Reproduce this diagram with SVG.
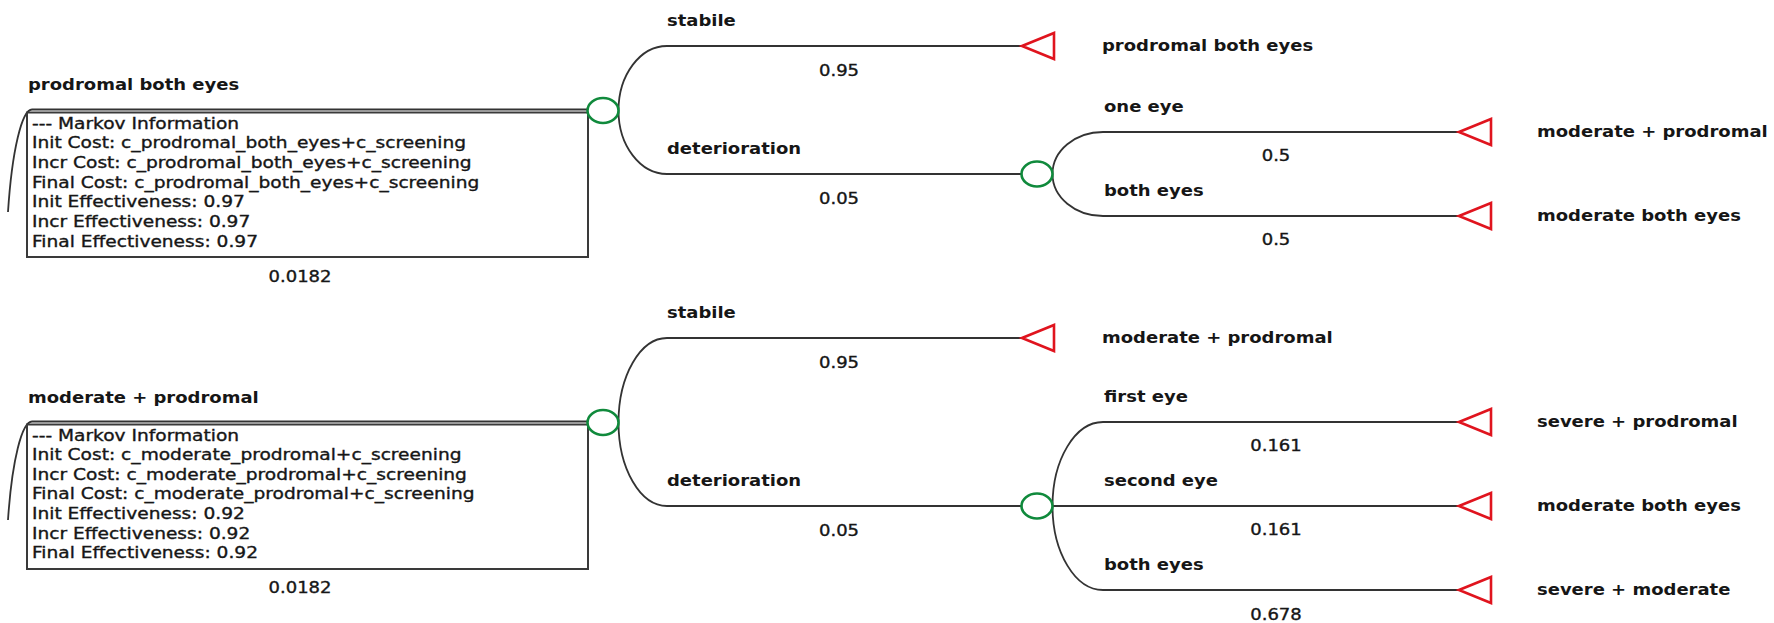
<svg xmlns="http://www.w3.org/2000/svg" width="1774" height="623" viewBox="0 0 1774 623">
<style>
  .bg { fill: #ffffff; }
  .edge { fill: none; stroke: #333333; stroke-width: 1.8; }
  .box { fill: none; stroke: #3a3a3a; stroke-width: 2; }
  .chance { fill: #ffffff; stroke: #108a3c; stroke-width: 2.6; }
  .term { fill: #ffffff; stroke: #e0141e; stroke-width: 2.6; stroke-linejoin: miter; }
  text { font-family: "DejaVu Sans", "Noto Sans", sans-serif; fill: #161616; }
  .lbl { font-size: 15px; font-weight: bold; }
  .prob { font-size: 15px; text-anchor: middle; stroke: #161616; stroke-width: 0.35; }
  .info { font-size: 15.5px; stroke: #161616; stroke-width: 0.35; }
</style>
<rect class="bg" x="0" y="0" width="1774" height="623"/>

<g id="connectors">
  <!-- top tree -->
  <path class="edge" d="M 8 212 C 12 150, 22 109.5, 32 109.5 H 588"/>
  <path class="edge" d="M 618.5 110.5 A 48.5 64.5 0 0 1 667 46 H 1022"/>
  <path class="edge" d="M 618.5 110.5 A 48.5 63.5 0 0 0 667 174 H 1021.5"/>
  <path class="edge" d="M 1052.5 174 A 50.5 42 0 0 1 1103 132 H 1459"/>
  <path class="edge" d="M 1052.5 174 A 50.5 42 0 0 0 1103 216 H 1459"/>
  <!-- bottom tree -->
  <path class="edge" d="M 8 520 C 12 460, 22 421.5, 32 421.5 H 588"/>
  <path class="edge" d="M 618.5 422.5 A 48.5 84.5 0 0 1 667 338 H 1022"/>
  <path class="edge" d="M 618.5 422.5 A 48.5 83.5 0 0 0 667 506 H 1021.5"/>
  <path class="edge" d="M 1052.5 506 A 50.5 84 0 0 1 1103 422 H 1459"/>
  <path class="edge" d="M 1052.5 506 H 1459"/>
  <path class="edge" d="M 1052.5 506 A 50.5 84 0 0 0 1103 590 H 1459"/>
</g>

<g id="edge-labels">
  <text class="lbl" transform="translate(667 26) scale(1.2 1)">stabile</text>
  <text class="prob" transform="translate(839 76) scale(1.2 1)">0.95</text>
  <text class="lbl" transform="translate(667 154) scale(1.2 1)">deterioration</text>
  <text class="prob" transform="translate(839 204) scale(1.2 1)">0.05</text>
  <text class="lbl" transform="translate(1104 112) scale(1.2 1)">one eye</text>
  <text class="prob" transform="translate(1276 161) scale(1.2 1)">0.5</text>
  <text class="lbl" transform="translate(1104 196) scale(1.2 1)">both eyes</text>
  <text class="prob" transform="translate(1276 245) scale(1.2 1)">0.5</text>

  <text class="lbl" transform="translate(667 318) scale(1.2 1)">stabile</text>
  <text class="prob" transform="translate(839 368) scale(1.2 1)">0.95</text>
  <text class="lbl" transform="translate(667 486) scale(1.2 1)">deterioration</text>
  <text class="prob" transform="translate(839 536) scale(1.2 1)">0.05</text>
  <text class="lbl" transform="translate(1104 402) scale(1.2 1)">first eye</text>
  <text class="prob" transform="translate(1276 451) scale(1.2 1)">0.161</text>
  <text class="lbl" transform="translate(1104 486) scale(1.2 1)">second eye</text>
  <text class="prob" transform="translate(1276 535) scale(1.2 1)">0.161</text>
  <text class="lbl" transform="translate(1104 570) scale(1.2 1)">both eyes</text>
  <text class="prob" transform="translate(1276 620) scale(1.2 1)">0.678</text>
</g>

<g id="markov-prodromal-both-eyes">
  <text class="lbl" transform="translate(28 90) scale(1.2 1)">prodromal both eyes</text>
  <rect class="box" x="27" y="112.5" width="561" height="144.5"/>
  <text class="info" transform="translate(32 128.5) scale(1.2 1)">--- Markov Information</text>
  <text class="info" transform="translate(32 148.2) scale(1.2 1)">Init Cost: c_prodromal_both_eyes+c_screening</text>
  <text class="info" transform="translate(32 167.9) scale(1.2 1)">Incr Cost: c_prodromal_both_eyes+c_screening</text>
  <text class="info" transform="translate(32 187.6) scale(1.2 1)">Final Cost: c_prodromal_both_eyes+c_screening</text>
  <text class="info" transform="translate(32 207.3) scale(1.2 1)">Init Effectiveness: 0.97</text>
  <text class="info" transform="translate(32 227) scale(1.2 1)">Incr Effectiveness: 0.97</text>
  <text class="info" transform="translate(32 246.7) scale(1.2 1)">Final Effectiveness: 0.97</text>
  <text class="prob" transform="translate(300 282) scale(1.2 1)">0.0182</text>
</g>
<g id="chance-1"><ellipse class="chance" cx="603" cy="110.5" rx="15.5" ry="12.5"/></g>
<g id="terminal-1">
  <polygon class="term" points="1022,46 1054,33 1054,59"/>
  <text class="lbl" transform="translate(1102 50.5) scale(1.2 1)">prodromal both eyes</text>
</g>
<g id="chance-2"><ellipse class="chance" cx="1037" cy="174" rx="15.5" ry="12.5"/></g>
<g id="terminal-2">
  <polygon class="term" points="1459,132 1491,119 1491,145"/>
  <text class="lbl" transform="translate(1537 136.5) scale(1.2 1)">moderate + prodromal</text>
</g>
<g id="terminal-3">
  <polygon class="term" points="1459,216 1491,203 1491,229"/>
  <text class="lbl" transform="translate(1537 220.5) scale(1.2 1)">moderate both eyes</text>
</g>

<g id="markov-moderate-prodromal">
  <text class="lbl" transform="translate(28 403) scale(1.2 1)">moderate + prodromal</text>
  <rect class="box" x="27" y="424.5" width="561" height="144.5"/>
  <text class="info" transform="translate(32 440.5) scale(1.2 1)">--- Markov Information</text>
  <text class="info" transform="translate(32 460.1) scale(1.2 1)">Init Cost: c_moderate_prodromal+c_screening</text>
  <text class="info" transform="translate(32 479.7) scale(1.2 1)">Incr Cost: c_moderate_prodromal+c_screening</text>
  <text class="info" transform="translate(32 499.3) scale(1.2 1)">Final Cost: c_moderate_prodromal+c_screening</text>
  <text class="info" transform="translate(32 518.9) scale(1.2 1)">Init Effectiveness: 0.92</text>
  <text class="info" transform="translate(32 538.5) scale(1.2 1)">Incr Effectiveness: 0.92</text>
  <text class="info" transform="translate(32 558.1) scale(1.2 1)">Final Effectiveness: 0.92</text>
  <text class="prob" transform="translate(300 593) scale(1.2 1)">0.0182</text>
</g>
<g id="chance-3"><ellipse class="chance" cx="603" cy="422.5" rx="15.5" ry="12.5"/></g>
<g id="terminal-4">
  <polygon class="term" points="1022,338 1054,325 1054,351"/>
  <text class="lbl" transform="translate(1102 342.5) scale(1.2 1)">moderate + prodromal</text>
</g>
<g id="chance-4"><ellipse class="chance" cx="1037" cy="506" rx="15.5" ry="12.5"/></g>
<g id="terminal-5">
  <polygon class="term" points="1459,422 1491,409 1491,435"/>
  <text class="lbl" transform="translate(1537 426.5) scale(1.2 1)">severe + prodromal</text>
</g>
<g id="terminal-6">
  <polygon class="term" points="1459,506 1491,493 1491,519"/>
  <text class="lbl" transform="translate(1537 510.5) scale(1.2 1)">moderate both eyes</text>
</g>
<g id="terminal-7">
  <polygon class="term" points="1459,590 1491,577 1491,603"/>
  <text class="lbl" transform="translate(1537 594.5) scale(1.2 1)">severe + moderate</text>
</g>
</svg>
